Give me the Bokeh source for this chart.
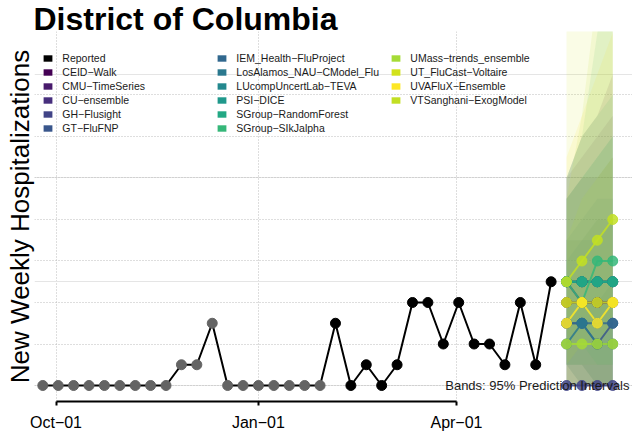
import datetime as dt

from bokeh.plotting import figure
from bokeh.models import (ColumnDataSource, FixedTicker, Grid, Label, Legend,
                          LegendItem, LinearAxis, Range1d, Title)
from bokeh.embed import file_html
from bokeh.resources import INLINE

# ---------------- data ----------------
title_text = "District of Columbia"
y_label = "New Weekly Hospitalizations"
band_note = "Bands: 95% Prediction Intervals"

reported_start = dt.datetime(2021, 9, 25)
reported_values = [0, 0, 0, 0, 0, 0, 0, 0, 0, 1, 1, 3,
                   0, 0, 0, 0, 0, 0, 0,
                   3, 0, 1, 0, 1, 4, 4, 2, 4, 2, 2, 1, 4, 1, 5]
n_older = 19  # first weeks drawn in grey

forecast_dates = [dt.datetime(2022, 5, 21), dt.datetime(2022, 5, 28),
                  dt.datetime(2022, 6, 4), dt.datetime(2022, 6, 11)]

models = ["CEID\u2212Walk", "CMU\u2212TimeSeries", "CU\u2212ensemble", "GH\u2212Flusight",
          "GT\u2212FluFNP", "IEM_Health\u2212FluProject", "LosAlamos_NAU\u2212CModel_Flu",
          "LUcompUncertLab\u2212TEVA", "PSI\u2212DICE", "SGroup\u2212RandomForest",
          "SGroup\u2212SIkJalpha", "UMass\u2212trends_ensemble", "UT_FluCast\u2212Voltaire",
          "UVAFluX\u2212Ensemble", "VTSanghani\u2212ExogModel"]
model_colors = ["#440154", "#481A6C", "#472F7D", "#414487", "#39568C", "#31688E",
                "#2A788E", "#23888E", "#1F988B", "#22A884", "#35B779", "#A5DB36",
                "#D2E21B", "#FDE725", "#C2DF23"]

point_fc = [
    [5, 5, 5, 5],   # CEID
    [4, 4, 4, 4],   # CMU
    [5, 4, 4, 4],   # CU
    [0, 0, 0, 0],   # GH
    [3, 3, 2, 3],   # GT
    [3, 3, 3, 3],   # IEM
    [2, 3, 2, 2],   # LosAlamos
    [5, 5, 5, 5],   # LUcomp
    [5, 5, 5, 5],   # PSI
    [5, 5, 5, 5],   # SGroup-RF
    [5, 4, 6, 6],   # SGroup-SIk
    [2, 2, 2, 2],   # UMass
    [4, 4, 4, 4],   # UT
    [3, 4, 3, 4],   # UVA
    [5, 6, 7, 8],   # VT
]
lower_fc = [
    [1, 1, 0, 0], [0, 0, 0, 0], [1, 0, 0, 0], [0, 0, 0, 0], [0, 0, 0, 0],
    [0, 0, 0, 0], [0, 0, 0, 0], [1, 0, 0, 0], [1, 1, 0, 0], [2, 2, 1, 1],
    [1, 1, 1, 1], [0, 0, 0, 0], [0, 0, 0, 0], [0, 0, 0, 0], [1, 2, 2, 3],
]
upper_fc = [
    [10, 12, 13, 15], [9, 10, 10, 11], [10, 11, 12, 13], [3, 4, 4, 5], [7, 7, 8, 8],
    [7, 8, 9, 9], [6, 7, 7, 8], [9, 10, 11, 12], [10, 12, 13, 14], [9, 10, 11, 12],
    [10, 12, 17, 20], [7, 9, 10, 11], [18, 18, 18, 18], [11, 13, 15, 17], [9, 13, 19, 24],
]

tick_dates = [dt.datetime(2021, 10, 1), dt.datetime(2022, 1, 1), dt.datetime(2022, 4, 1)]
tick_labels = ["Oct\u221201", "Jan\u221201", "Apr\u221201"]
y_grid_values = [0, 2, 4, 6, 8, 10, 12, 14]

# ---------------- figure ----------------
FONT = "Liberation Sans"
x_start = dt.datetime(2021, 9, 21, 5, 30)
x_end = dt.datetime(2022, 6, 19, 23, 30)

p = figure(width=632, height=433, x_axis_type="datetime", y_axis_location=None,
           x_range=Range1d(x_start, x_end), y_range=Range1d(-0.771, 17.06),
           toolbar_location=None, output_backend="svg",
           min_border_left=34, min_border_right=0, min_border_top=31, min_border_bottom=32)
p.title.visible = False
p.outline_line_color = None
p.background_fill_color = "white"
p.border_fill_color = "white"

p.add_layout(Title(text=title_text, align="left", offset=-1, standoff=-10,
                   text_font=FONT, text_font_style="bold", text_font_size="32px",
                   text_color="black"), "above")

def ms(d):
    return (d - dt.datetime(1970, 1, 1)).total_seconds() * 1000.0

tick_ms = [ms(d) for d in tick_dates]
xt = FixedTicker(ticks=tick_ms)
ax = p.xaxis[0]
ax.ticker = xt
ax.major_label_overrides = {t: lab for t, lab in zip(tick_ms, tick_labels)}
ax.bounds = (tick_ms[0], tick_ms[-1])
ax.axis_line_width = 2
ax.axis_line_color = "black"
ax.major_tick_out = 4
ax.major_tick_in = 0
ax.major_tick_line_width = 2
ax.minor_tick_line_color = None
ax.major_label_standoff = 8
ax.major_label_text_font = FONT
ax.major_label_text_font_size = "16px"
ax.major_label_text_color = "black"

yax = LinearAxis(ticker=FixedTicker(ticks=[]), axis_label=y_label,
                 axis_label_standoff=0, axis_label_text_font=FONT,
                 axis_label_text_font_size="26px", axis_label_text_font_style="normal",
                 axis_label_text_color="black", axis_line_color=None,
                 major_tick_line_color=None, minor_tick_line_color=None)
p.add_layout(yax, "left")

p.xgrid.ticker = xt
p.xgrid.grid_line_color = "#bdbdbd"
p.xgrid.grid_line_dash = "1 2"
p.xgrid.grid_line_width = 1
ygrid = Grid(dimension=1, ticker=FixedTicker(ticks=y_grid_values),
             grid_line_color="#bdbdbd", grid_line_dash="1 2", grid_line_width=1)
p.add_layout(ygrid)

# bands
for i, m in enumerate(models):
    src = ColumnDataSource(dict(x=forecast_dates, lo=lower_fc[i], hi=upper_fc[i]))
    p.varea(x="x", y1="lo", y2="hi", source=src, fill_color=model_colors[i], fill_alpha=0.11)

# reported
rep_dates = [reported_start + dt.timedelta(weeks=k) for k in range(len(reported_values))]
p.line(rep_dates, reported_values, line_color="black", line_width=2)
p.scatter(rep_dates[:n_older], reported_values[:n_older], size=10, color="#646464")
p.scatter(rep_dates[n_older:], reported_values[n_older:], size=10, color="black")

# forecast lines then points
for i, m in enumerate(models):
    p.line(forecast_dates, point_fc[i], line_color=model_colors[i], line_width=2, line_alpha=0.85)
for i, m in enumerate(models):
    p.scatter(forecast_dates, point_fc[i], size=10, color=model_colors[i], alpha=0.85)

# legend (solid keys; key renderers hold no visible data)
nan = float("nan")
items = []
key = p.quad(left=[nan], right=[nan], top=[nan], bottom=[nan], fill_color="black", line_color=None)
items.append(LegendItem(label="Reported", renderers=[key]))
for i, m in enumerate(models):
    r = p.quad(left=[nan], right=[nan], top=[nan], bottom=[nan],
               fill_color=model_colors[i], line_color=None)
    items.append(LegendItem(label=m, renderers=[r]))
legend = Legend(items=items, location=(8.3, 267), ncols=3, orientation="vertical",
                glyph_width=11, glyph_height=8, label_height=8, label_width=152,
                label_standoff=9, spacing=2, padding=0, margin=0, border_line_color=None,
                background_fill_alpha=0, label_text_font=FONT,
                label_text_font_size="10.5px", label_text_color="#1a1a1a")
p.add_layout(legend)

p.add_layout(Label(x=595, y=16, x_units="screen", y_units="screen", text=band_note,
                   text_font=FONT, text_font_size="13px", text_color="#1a1a1a",
                   text_baseline="middle", text_align="right"))

open("out.html", "w").write(file_html(p, INLINE))
